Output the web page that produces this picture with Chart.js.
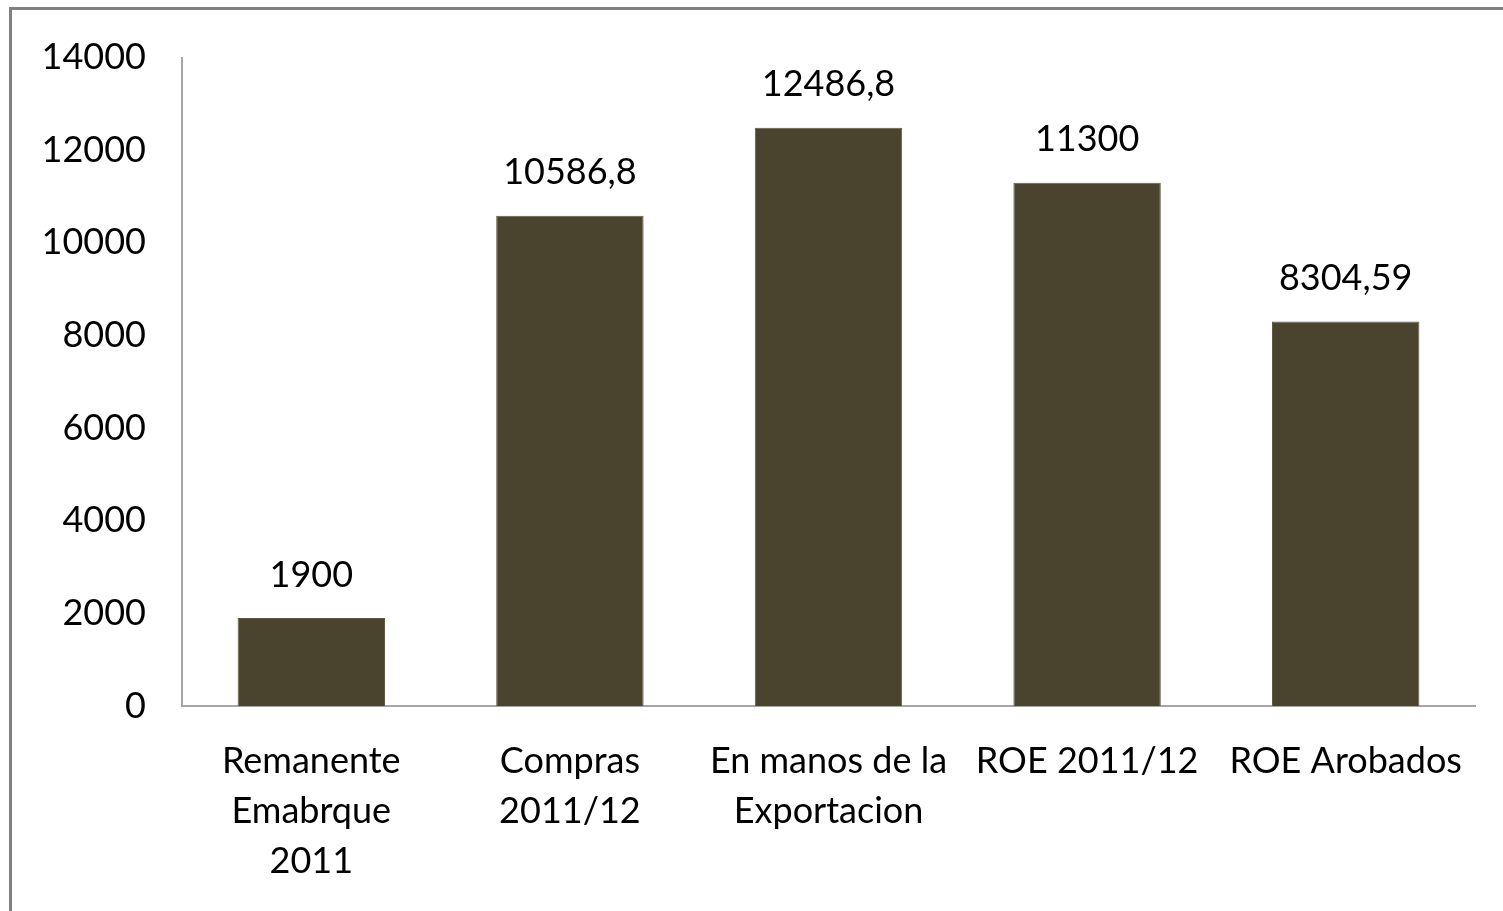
<!DOCTYPE html>
<html>
<head>
<meta charset="utf-8">
<script src="https://cdn.jsdelivr.net/npm/chart.js@4/dist/chart.umd.min.js"></script>
<style>
  html, body { margin: 0; padding: 0; background: #fff; overflow: hidden; }
  #wrap { position: absolute; left: 0; top: 0; width: 1503px; height: 911px; }
  #frame { position: absolute; left: 9px; top: 7px; width: 1600px; height: 1000px;
           border-left: 3px solid #808080; border-top: 3px solid #808080; pointer-events: none; }
</style>
</head>
<body>
<div id="wrap"><canvas id="c" width="1503" height="911"></canvas></div>
<div id="frame"></div>
<script>
const categories = [
  ["Remanente", "Emabrque", "2011"],
  ["Compras", "2011/12"],
  ["En manos de la", "Exportacion"],
  ["ROE 2011/12"],
  ["ROE Arobados"]
];
const values = [1900, 10586.8, 12486.8, 11300, 8304.59];
const valueLabels = ["1900", "10586,8", "12486,8", "11300", "8304,59"];
const yTicks = [0, 2000, 4000, 6000, 8000, 10000, 12000, 14000];

const FONT = "Lato, 'Open Sans', sans-serif";

const dataLabelPlugin = {
  id: 'dataLabels',
  afterDatasetsDraw(chart) {
    const ctx = chart.ctx;
    const meta = chart.getDatasetMeta(0);
    ctx.save();
    ctx.font = "36px " + FONT;
    ctx.fillStyle = "#000";
    ctx.textAlign = "center";
    ctx.textBaseline = "middle";
    meta.data.forEach((bar, i) => {
      ctx.fillText(valueLabels[i], bar.x, bar.y - 43);
    });
    ctx.restore();
  }
};

new Chart(document.getElementById('c'), {
  type: 'bar',
  data: {
    labels: categories,
    datasets: [{
      data: values,
      backgroundColor: '#4a432e',
      borderColor: '#5e5844',
      borderWidth: 1,
      categoryPercentage: 1.0,
      barPercentage: 0.57
    }]
  },
  options: {
    responsive: false,
    animation: false,
    events: [],
    layout: { padding: { top: 57, right: 28, bottom: 0, left: 0 } },
    plugins: { legend: { display: false }, tooltip: { enabled: false } },
    scales: {
      x: {
        grid: { display: false, drawTicks: false },
        border: { display: true, color: '#a6a6a6', width: 2 },
        ticks: { color: '#000', font: { family: FONT, size: 36, lineHeight: 1.39 }, padding: 30, maxRotation: 0, autoSkip: false },
        afterFit(scale) { scale.height = 205; }
      },
      y: {
        min: 0, max: 14000,
        afterBuildTicks(scale) { scale.ticks = yTicks.map(v => ({ value: v })); },
        grid: { display: false, drawTicks: false },
        border: { display: true, color: '#a6a6a6', width: 2 },
        ticks: { color: '#000', font: { family: FONT, size: 36 }, padding: 36, callback: (v) => String(v) },
        afterFit(scale) { scale.width = 182; }
      }
    }
  },
  plugins: [dataLabelPlugin]
});
</script>
</body>
</html>
